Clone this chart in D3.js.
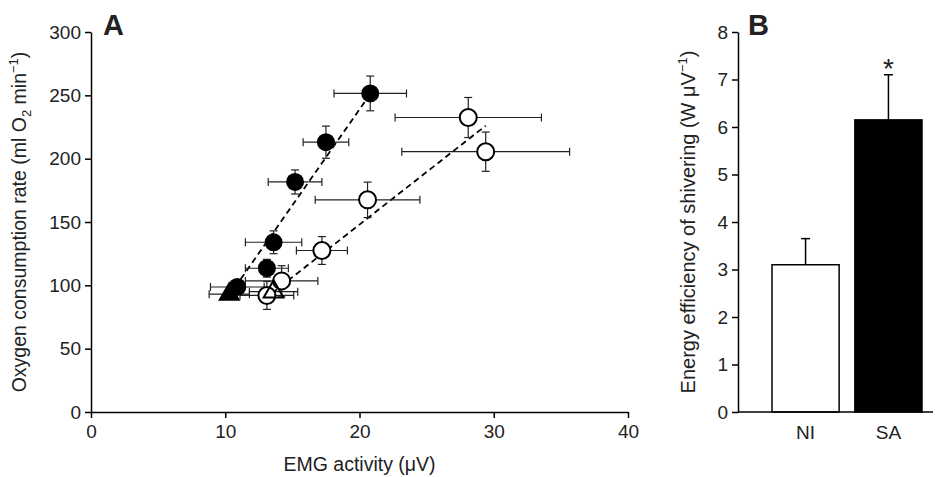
<!DOCTYPE html>
<html>
<head>
<meta charset="utf-8">
<script src="https://cdn.jsdelivr.net/npm/d3@7"></script>
<style>
  body { margin: 0; background: #fff; }
  svg { font-family: "Liberation Sans", Arial, sans-serif; }
</style>
</head>
<body>
<script>
// panel A data: EMG activity (uV) vs oxygen consumption (ml O2/min), mean +/- SE
var saX    = [10.9, 13.1, 13.6, 15.2, 17.5, 20.8];
var saY    = [98.7, 113.5, 134, 181.6, 213, 251.5];
var saXerr = [2.0, 1.6, 2.1, 2.0, 1.7, 2.7];
var saYerr = [5, 7, 9, 9.5, 12.7, 13.7];

var niX    = [13.1, 14.2, 17.2, 20.6, 28.1, 29.4];
var niY    = [92, 103.5, 127.5, 167.5, 232.5, 205.5];
var niXerr = [2.0, 2.7, 1.9, 3.9, 5.45, 6.25];
var niYerr = [11, 12, 11, 14, 15.8, 15.5];

// baseline (triangles): x, y, x error
var saBase = [10.3, 93, 1.5];
var niBase = [13.6, 95, 1.8];

// regression lines
var saLineX = [10.3, 20.8], saLineY = [92, 251];
var niLineX = [13.5, 29.4], niLineY = [94, 226];

var xTicksA = [0, 10, 20, 30, 40];
var yTicksA = [0, 50, 100, 150, 200, 250, 300];

// panel B data
var groups = ["NI", "SA"];
var effic  = [3.1, 6.15];
var efficErr = [0.55, 0.95];
var yTicksB = [0, 1, 2, 3, 4, 5, 6, 7, 8];

var FS = 19;

var svg = d3.select("body").append("svg")
  .attr("width", 943)
  .attr("height", 477);

// ---------- panel A ----------
var x = d3.scaleLinear().domain([0, 40]).range([91, 628]);
var y = d3.scaleLinear().domain([0, 300]).range([412, 32]);

var gx = svg.append("g").attr("transform", "translate(0,412)")
  .call(d3.axisBottom(x).tickValues(xTicksA).tickSize(6).tickSizeOuter(0).tickPadding(4));
var gy = svg.append("g").attr("transform", "translate(91,0)")
  .call(d3.axisLeft(y).tickValues(yTicksA).tickSize(6).tickSizeOuter(0).tickPadding(4));

[gx, gy].forEach(function(g) {
  g.selectAll("path, line").attr("stroke", "#000").attr("stroke-width", 1.5);
  g.selectAll("text").attr("font-size", FS).attr("fill", "#222")
    .attr("font-family", "Liberation Sans, Arial, sans-serif");
});
gx.selectAll("text").attr("dy", "0.85em");

svg.append("text")
  .attr("x", x(20)).attr("y", 471)
  .attr("text-anchor", "middle").attr("font-size", 19.5).attr("fill", "#222")
  .text("EMG activity (\u03bcV)");

var yl = svg.append("text")
  .attr("transform", "translate(26," + y(150) + ") rotate(-90)")
  .attr("text-anchor", "middle").attr("font-size", 19.5).attr("fill", "#222");
yl.append("tspan").text("Oxygen consumption rate (ml O");
yl.append("tspan").attr("font-size", 13).attr("dy", 5).text("2");
yl.append("tspan").attr("dy", -5).text(" min");
yl.append("tspan").attr("font-size", 13).attr("dy", -8).text("\u22121");
yl.append("tspan").attr("dy", 8).text(")");

svg.append("text").attr("x", 103).attr("y", 35)
  .attr("font-size", 29).attr("font-weight", "bold").attr("fill", "#222").text("A");

// regression lines
var line = d3.line().x(function(d) { return x(d[0]); }).y(function(d) { return y(d[1]); });
svg.append("path").datum(d3.zip(saLineX, saLineY))
  .attr("d", line).attr("fill", "none").attr("stroke", "#000")
  .attr("stroke-width", 1.8).attr("stroke-dasharray", "6,4");
svg.append("path").datum(d3.zip(niLineX, niLineY))
  .attr("d", line).attr("fill", "none").attr("stroke", "#000")
  .attr("stroke-width", 1.8).attr("stroke-dasharray", "6,4");

function errBars(xs, ys, xe, ye) {
  var cap = 4;
  var g = svg.append("g").attr("stroke", "#222").attr("stroke-width", 1.2);
  xs.forEach(function(v, i) {
    if (xe[i]) {
      g.append("line").attr("x1", x(v - xe[i])).attr("x2", x(v + xe[i]))
        .attr("y1", y(ys[i])).attr("y2", y(ys[i]));
      g.append("line").attr("x1", x(v - xe[i])).attr("x2", x(v - xe[i]))
        .attr("y1", y(ys[i]) - cap).attr("y2", y(ys[i]) + cap);
      g.append("line").attr("x1", x(v + xe[i])).attr("x2", x(v + xe[i]))
        .attr("y1", y(ys[i]) - cap).attr("y2", y(ys[i]) + cap);
    }
    if (ye[i]) {
      g.append("line").attr("x1", x(v)).attr("x2", x(v))
        .attr("y1", y(ys[i] - ye[i])).attr("y2", y(ys[i] + ye[i]));
      g.append("line").attr("x1", x(v) - cap).attr("x2", x(v) + cap)
        .attr("y1", y(ys[i] - ye[i])).attr("y2", y(ys[i] - ye[i]));
      g.append("line").attr("x1", x(v) - cap).attr("x2", x(v) + cap)
        .attr("y1", y(ys[i] + ye[i])).attr("y2", y(ys[i] + ye[i]));
    }
  });
}

errBars([saBase[0], niBase[0]], [saBase[1], niBase[1]], [saBase[2], niBase[2]], [0, 0]);
errBars(niX, niY, niXerr, niYerr);
errBars(saX, saY, saXerr, saYerr);

svg.selectAll("circle.ni").data(d3.zip(niX, niY)).enter()
  .append("circle").attr("class", "ni")
  .attr("cx", function(d) { return x(d[0]); })
  .attr("cy", function(d) { return y(d[1]); })
  .attr("r", 8.5).attr("fill", "#fff").attr("stroke", "#000").attr("stroke-width", 2);

svg.selectAll("circle.sa").data(d3.zip(saX, saY)).enter()
  .append("circle").attr("class", "sa")
  .attr("cx", function(d) { return x(d[0]); })
  .attr("cy", function(d) { return y(d[1]); })
  .attr("r", 9).attr("fill", "#000");

// baseline triangles drawn on top
var tri = d3.symbol().type(d3.symbolTriangle).size(170);
svg.append("path").attr("d", tri)
  .attr("transform", "translate(" + x(saBase[0]) + "," + y(saBase[1]) + ")")
  .attr("fill", "#000").attr("stroke", "#000").attr("stroke-width", 1.5);
svg.append("path").attr("d", tri)
  .attr("transform", "translate(" + x(niBase[0]) + "," + y(niBase[1]) + ")")
  .attr("fill", "none").attr("stroke", "#000").attr("stroke-width", 2);

// ---------- panel B ----------
var xb = d3.scaleBand().domain(groups).range([772, 922]).paddingInner(0.19);
var yb = d3.scaleLinear().domain([0, 8]).range([412, 32]);

var gyb = svg.append("g").attr("transform", "translate(738,0)")
  .call(d3.axisLeft(yb).tickValues(yTicksB).tickSize(6).tickSizeOuter(0).tickPadding(4));
gyb.selectAll("path, line").attr("stroke", "#000").attr("stroke-width", 1.5);
gyb.selectAll("text").attr("font-size", FS).attr("fill", "#222")
  .attr("font-family", "Liberation Sans, Arial, sans-serif");

svg.selectAll("line.err").data(groups).enter()
  .append("line")
  .attr("x1", function(d) { return xb(d) + xb.bandwidth() / 2; })
  .attr("x2", function(d) { return xb(d) + xb.bandwidth() / 2; })
  .attr("y1", function(d, i) { return yb(effic[i]); })
  .attr("y2", function(d, i) { return yb(effic[i] + efficErr[i]); })
  .attr("stroke", "#000").attr("stroke-width", 1.5);
svg.selectAll("line.cap").data(groups).enter()
  .append("line")
  .attr("x1", function(d) { return xb(d) + xb.bandwidth() / 2 - 4.5; })
  .attr("x2", function(d) { return xb(d) + xb.bandwidth() / 2 + 4.5; })
  .attr("y1", function(d, i) { return yb(effic[i] + efficErr[i]); })
  .attr("y2", function(d, i) { return yb(effic[i] + efficErr[i]); })
  .attr("stroke", "#000").attr("stroke-width", 1.5);

svg.selectAll("rect.bar").data(groups).enter()
  .append("rect").attr("class", "bar")
  .attr("x", function(d) { return xb(d); })
  .attr("y", function(d, i) { return yb(effic[i]); })
  .attr("width", xb.bandwidth())
  .attr("height", function(d, i) { return yb(0) - yb(effic[i]); })
  .attr("fill", function(d, i) { return i === 0 ? "#fff" : "#000"; })
  .attr("stroke", "#000").attr("stroke-width", 1.5);

var gxb = svg.append("g").attr("transform", "translate(0,412)")
  .call(d3.axisBottom(xb).tickSize(0).tickPadding(14));
gxb.select("path").attr("d", "M738,0H933").attr("stroke", "#000").attr("stroke-width", 1.5);
gxb.selectAll("text").attr("font-size", FS).attr("fill", "#222")
  .attr("font-family", "Liberation Sans, Arial, sans-serif");

svg.append("text")
  .attr("x", xb("SA") + xb.bandwidth() / 2).attr("y", 78)
  .attr("text-anchor", "middle").attr("font-size", 28).attr("fill", "#222").text("*");

var ylb = svg.append("text")
  .attr("transform", "translate(695," + yb(4) + ") rotate(-90)")
  .attr("text-anchor", "middle").attr("font-size", 20).attr("fill", "#222");
ylb.append("tspan").text("Energy efficiency of shivering (W \u03bcV");
ylb.append("tspan").attr("font-size", 13).attr("dy", -8).text("\u22121");
ylb.append("tspan").attr("dy", 8).text(")");

svg.append("text").attr("x", 748).attr("y", 35)
  .attr("font-size", 29).attr("font-weight", "bold").attr("fill", "#222").text("B");
</script>
</body>
</html>
